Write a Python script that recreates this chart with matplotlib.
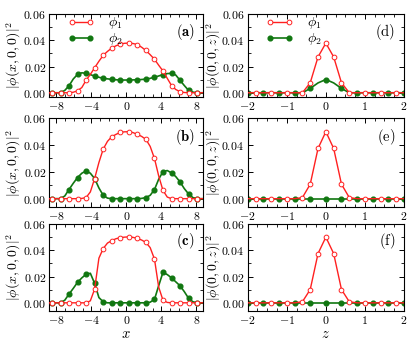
import matplotlib
matplotlib.use("Agg")
import matplotlib.pyplot as plt
from matplotlib.ticker import MultipleLocator, FuncFormatter

plt.rcParams['mathtext.fontset'] = 'cm'
plt.rcParams['font.family'] = 'serif'
plt.rcParams['font.serif'] = ['DejaVu Serif']

# sample positions along x (left column); odd indices carry the markers
x = [-8.8, -8.5, -8.01, -7.52, -7.03, -6.55, -6.06, -5.57, -5.08, -4.6,
     -4.11, -3.62, -3.13, -2.64, -2.15, -1.67, -1.18, -0.69, -0.2, 0.29,
     0.78, 1.26, 1.75, 2.24, 2.73, 3.22, 3.7, 4.19, 4.68, 5.17,
     5.65, 6.14, 6.63, 7.12, 7.61, 8.1, 8.8]

red_a = [0, 0, 0, 0, 0, 0, 0.0004, 0.0015, 0.004, 0.0095,
         0.014, 0.019, 0.024, 0.0285, 0.0315, 0.034, 0.0358, 0.037, 0.0377, 0.0378,
         0.0375, 0.0367, 0.0347, 0.0322, 0.029, 0.0255, 0.021, 0.0166, 0.011, 0.0055,
         0.0025, 0.0008, 0.0002, 0, 0, 0, 0]
green_a = [0, 0, 0, 0, 0.0018, 0.0053, 0.0105, 0.014, 0.0152, 0.0148,
           0.0138, 0.0127, 0.0118, 0.011, 0.0106, 0.0102, 0.0099, 0.0097, 0.0097, 0.0097,
           0.0098, 0.0099, 0.0101, 0.0104, 0.011, 0.0118, 0.0128, 0.0138, 0.0146, 0.0148,
           0.0135, 0.0095, 0.0055, 0.0018, 0.0005, 0, 0]

red_b = [0, 0, 0, 0, 0, 0, 0, 0, 0.0002, 0.0008,
         0.005, 0.015, 0.027, 0.037, 0.0428, 0.0462, 0.048, 0.0495, 0.0499, 0.05,
         0.0493, 0.048, 0.0465, 0.0443, 0.039, 0.03, 0.017, 0.0062, 0.0012, 0,
         0, 0, 0, 0, 0, 0, 0]
green_b = [0, 0, 0, 0, 0.002, 0.0068, 0.0115, 0.0158, 0.019, 0.0207,
           0.019, 0.015, 0.008, 0.0025, 0.0004, 0, 0, 0, 0, 0,
           0, 0, 0.0002, 0.0008, 0.0025, 0.0068, 0.0145, 0.0202, 0.021, 0.0192,
           0.0165, 0.0125, 0.0075, 0.0035, 0.0008, 0, 0]

red_c = [0, 0, 0, 0, 0, 0, 0, 0, 0, 0,
         0.0015, 0.0104, 0.034, 0.0413, 0.0455, 0.0473, 0.0488, 0.0496, 0.05, 0.0502,
         0.0498, 0.049, 0.0478, 0.046, 0.042, 0.0333, 0.012, 0.002, 0.0003, 0,
         0, 0, 0, 0, 0, 0, 0]
green_c = [0, 0, 0, 0, 0.002, 0.0066, 0.011, 0.0156, 0.019, 0.0217,
           0.0225, 0.0148, 0.004, 0.0008, 0, 0, 0, 0, 0, 0,
           0, 0, 0, 0, 0.0005, 0.0026, 0.013, 0.0232, 0.0215, 0.019,
           0.016, 0.013, 0.0085, 0.0034, 0.0008, 0, 0]

# z grid (right column)
z = [-2.0, -1.8, -1.6, -1.4, -1.2, -1.0, -0.8, -0.6, -0.4, -0.2, 0.0,
     0.2, 0.4, 0.6, 0.8, 1.0, 1.2, 1.4, 1.6, 1.8, 2.0]
red_mark = [1, 3, 5, 7, 8, 9, 10, 11, 12, 13, 15, 17, 19]
green_mark = [0, 2, 4, 6, 8, 10, 12, 14, 16, 18, 20]

red_d = [0, 0, 0, 0, 0, 0, 0, 0, 0.0076, 0.0273, 0.0378,
         0.0273, 0.0076, 0, 0, 0, 0, 0, 0, 0, 0]
green_d = [0, 0, 0, 0, 0, 0, 0, 0, 0.0033, 0.0075, 0.0101,
           0.0075, 0.0033, 0, 0, 0, 0, 0, 0, 0, 0]
red_e = [0, 0, 0, 0, 0, 0, 0, 0.0008, 0.0108, 0.0375, 0.05,
         0.0375, 0.0108, 0.0008, 0, 0, 0, 0, 0, 0, 0]
green_e = [0] * 21
red_f = [0, 0, 0, 0, 0, 0, 0, 0.0008, 0.0101, 0.0375, 0.05,
         0.0375, 0.0101, 0.0008, 0, 0, 0, 0, 0, 0, 0]
green_f = [0] * 21

RED = '#ff2020'
GREEN = '#117711'

fig = plt.figure(figsize=(4.16, 3.42), dpi=100)

W, H = 416.0, 342.0
rows = [(14, 96.7, -0.003), (118.3, 206.7, -0.006), (224, 310.7, -0.006)]
cols = [(49.3, 203.3), (247.7, 404)]

fmt_y = FuncFormatter(lambda v, p: '$%.2f$' % v)
fmt_x = FuncFormatter(lambda v, p: '$%g$' % v)


def make_ax(r, c):
    top, bot, ylo = rows[r]
    left, right = cols[c]
    ax = fig.add_axes([left / W, 1 - bot / H, (right - left) / W, (bot - top) / H])
    ax.set_ylim(ylo, 0.06)
    ax.yaxis.set_major_locator(MultipleLocator(0.02))
    ax.yaxis.set_minor_locator(MultipleLocator(0.01))
    ax.yaxis.set_major_formatter(fmt_y)
    ax.xaxis.set_major_formatter(fmt_x)
    ax.tick_params(which='both', direction='in', top=True, right=True, labelsize=8.5, pad=2.5)
    ax.tick_params(which='major', length=3.5, width=0.7)
    ax.tick_params(which='minor', length=2, width=0.6)
    for s in ax.spines.values():
        s.set_linewidth(0.8)
    return ax


def add_legend(ax):
    ax.legend(loc='upper left', bbox_to_anchor=(0.11, 1.0), frameon=False,
              fontsize=10, numpoints=2, handlelength=1.9, borderaxespad=0,
              labelspacing=0.0, handletextpad=1.0, borderpad=0.1)


def label_pos(ax, lab, ytop):
    ax.text(0.945, ytop, lab, transform=ax.transAxes, ha='right', va='top', fontsize=10.5)


left_data = [(red_a, green_a, r'$\mathbf{(a)}$', 0.9),
             (red_b, green_b, r'$\mathbf{(b)}$', 0.9),
             (red_c, green_c, r'$\mathbf{(c)}$', 0.92)]
right_data = [(red_d, green_d, r'$\mathrm{(d)}$', 0.9),
              (red_e, green_e, r'$\mathrm{(e)}$', 0.9),
              (red_f, green_f, r'$\mathrm{(f)}$', 0.92)]

for i, (rd, gr, lab, yt) in enumerate(left_data):
    ax = make_ax(i, 0)
    ax.plot(x, rd, '-o', color=RED, lw=1, ms=3.4, mfc='white', mec=RED, mew=0.7,
            markevery=slice(1, len(x) - 1, 2), label=r'$\phi_1$', zorder=3)
    ax.plot(x, gr, '-o', color=GREEN, lw=1.2, ms=3.4, mfc=GREEN, mec=GREEN,
            markevery=slice(1, len(x) - 1, 2), label=r'$\phi_2$', zorder=2)
    ax.set_xlim(-8.8, 8.8)
    ax.xaxis.set_major_locator(MultipleLocator(4))
    ax.xaxis.set_minor_locator(MultipleLocator(1))
    ax.set_ylabel(r'$|\phi(x,0,0)|^2$', fontsize=10, labelpad=0)
    label_pos(ax, lab, yt)
    if i == 0:
        add_legend(ax)
    if i == 2:
        ax.set_xlabel(r'$x$', fontsize=10.5, labelpad=0)

for i, (rd, gr, lab, yt) in enumerate(right_data):
    ax = make_ax(i, 1)
    ax.plot(z, rd, '-o', color=RED, lw=1, ms=3.4, mfc='white', mec=RED, mew=0.7,
            markevery=red_mark, label=r'$\phi_1$', zorder=3)
    ax.plot(z, gr, '-o', color=GREEN, lw=1.2, ms=3.4, mfc=GREEN, mec=GREEN,
            markevery=green_mark, label=r'$\phi_2$', zorder=2)
    ax.set_xlim(-2, 2)
    ax.xaxis.set_major_locator(MultipleLocator(1))
    ax.xaxis.set_minor_locator(MultipleLocator(0.25))
    ax.set_ylabel(r'$|\phi(0,0,z)|^2$', fontsize=10, labelpad=-1)
    label_pos(ax, lab, yt)
    if i == 0:
        add_legend(ax)
    if i == 2:
        ax.set_xlabel(r'$z$', fontsize=10.5, labelpad=0)

fig.savefig('out.png', dpi=100)
